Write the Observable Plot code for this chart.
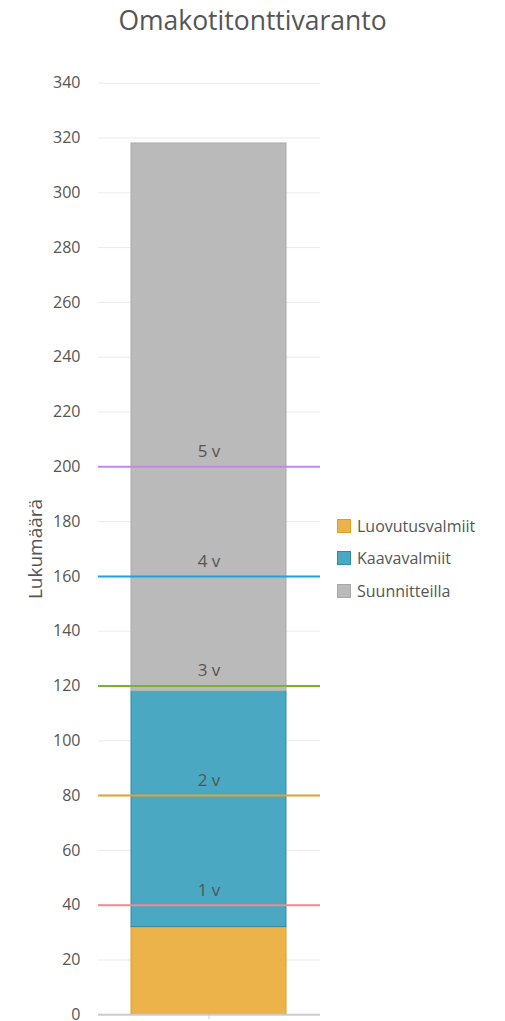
<!DOCTYPE html>
<html>
<head>
<meta charset="utf-8">
<script src="https://cdn.jsdelivr.net/npm/d3@7"></script>
<script src="https://cdn.jsdelivr.net/npm/@observablehq/plot@0.6"></script>
<style>
  html, body { margin: 0; padding: 0; background: #fff; }
  body { width: 505px; height: 1021px; position: relative; overflow: hidden; font-family: "Open Sans", "Noto Sans", sans-serif; }
  #title { position: absolute; left: 0; top: 2px; width: 505px; text-align: center; font-size: 26.5px; color: #555; }
  #chart { position: absolute; left: 0; top: 45px; }
  #chart svg { overflow: visible; }
  #legend { position: absolute; left: 337px; top: 518px; font-size: 16px; color: #555; }
  .item { display: flex; align-items: center; height: 15px; margin-bottom: 17.5px; }
  .sw { width: 14px; height: 14px; box-sizing: border-box; border: 1px solid; margin-right: 6px; }
</style>
</head>
<body>
<div id="title">Omakotitonttivaranto</div>
<div id="chart"></div>
<div id="legend"></div>
<script>
const category = ["Omakotitontit"];
const series = ["Luovutusvalmiit", "Kaavavalmiit", "Suunnitteilla"];
const values = [32, 86, 200];
const fills = ["#ebb34a", "#4aa8c3", "#bababa"];
const strokes = ["#e0a024", "#2e8aa8", "#a9a9a9"];

const yearLabels = ["1 v", "2 v", "3 v", "4 v", "5 v"];
const yearValues = [40, 80, 120, 160, 200];
const yearColors = ["#f08a8e", "#e3a22a", "#76b42a", "#1fa3dc", "#c885ee"];

const yTicks = d3.range(0, 341, 20);

const data = series.map((s, i) => ({cat: category[0], series: s, value: values[i]}));
const years = yearLabels.map((l, i) => ({cat: category[0], label: l, value: yearValues[i], color: yearColors[i]}));

const chart = Plot.plot({
  width: 330,
  height: 976,
  marginLeft: 98,
  marginRight: 10,
  marginTop: 37.7,
  marginBottom: 6.7,
  style: {fontFamily: "'Open Sans', 'Noto Sans', sans-serif", fontSize: "16px", color: "#555", background: "transparent", overflow: "visible"},
  x: {domain: category, padding: 0.175, axis: null},
  y: {domain: [0, 340], ticks: yTicks},
  color: {domain: series, range: fills},
  marks: [
    Plot.ruleY(yTicks.filter(d => d > 0), {stroke: "#ebebeb", strokeWidth: 1}),
    Plot.axisY({ticks: yTicks, tickSize: 0, tickPadding: 18, fontSize: 16, fill: "#555",
      label: "Lukumäärä", labelAnchor: "center", labelArrow: "none", labelOffset: 70}),
    Plot.barY(data, Plot.stackY({x: "cat", y: "value", fill: "series",
      stroke: d => strokes[series.indexOf(d.series)], strokeWidth: 1, fillOpacity: 1, order: series})),
    Plot.ruleY([0], {stroke: "#cccccc", strokeWidth: 2}),
    Plot.ruleX(category, {x: d => d, y1: 0, y2: 0, insetBottom: -5, stroke: "#cccccc", strokeWidth: 1}),
    Plot.ruleY(years, {y: "value", stroke: "color", strokeWidth: 2}),
    Plot.text(years, {x: "cat", y: "value", text: "label", dy: -15, fill: "#555", fontSize: 17})
  ]
});
document.getElementById("chart").appendChild(chart);

// enlarge y-axis label
chart.querySelectorAll('[aria-label="y-axis label"] text, g[aria-label="y-axis label"]').forEach(el => {
  el.setAttribute("font-size", "19");
  el.style.fontSize = "19px";
});

const legend = document.getElementById("legend");
series.forEach((s, i) => {
  const item = document.createElement("div");
  item.className = "item";
  const sw = document.createElement("div");
  sw.className = "sw";
  sw.style.background = fills[i];
  sw.style.borderColor = strokes[i];
  const t = document.createElement("span");
  t.textContent = s;
  item.appendChild(sw);
  item.appendChild(t);
  legend.appendChild(item);
});
</script>
</body>
</html>
